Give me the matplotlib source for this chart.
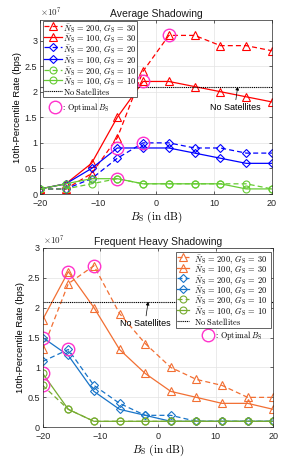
import matplotlib
matplotlib.use("Agg")
import matplotlib.pyplot as plt
from matplotlib.lines import Line2D
from matplotlib.patches import Rectangle
import numpy as np

plt.rcParams['mathtext.fontset'] = 'cm'
plt.rcParams['font.family'] = ['Liberation Sans', 'DejaVu Sans']

# ---------------- data ----------------
bs = np.linspace(-20, 20, 10)

# Average shadowing (units of 1e7 bps)
avg_200_30 = [0.1, 0.1, 0.4, 1.1, 2.4, 3.1, 3.1, 2.9, 2.9, 2.8]
avg_100_30 = [0.1, 0.2, 0.6, 1.5, 2.2, 2.2, 2.1, 2.0, 1.9, 1.8]
avg_200_20 = [0.1, 0.1, 0.3, 0.7, 1.0, 1.0, 0.9, 0.9, 0.8, 0.8]
avg_100_20 = [0.1, 0.2, 0.5, 0.9, 0.9, 0.9, 0.8, 0.7, 0.6, 0.6]
avg_200_10 = [0.1, 0.1, 0.2, 0.3, 0.2, 0.2, 0.2, 0.2, 0.2, 0.1]
avg_100_10 = [0.1, 0.2, 0.3, 0.3, 0.2, 0.2, 0.2, 0.2, 0.1, 0.1]
avg_nosat = 2.1
avg_opt_x = [2.22, -2.22, -2.22, -6.67, -6.67]
avg_opt_y = [3.1, 2.2, 1.0, 0.9, 0.3]

# Frequent heavy shadowing
fhs_200_30 = [1.3, 2.4, 2.7, 1.9, 1.4, 1.0, 0.8, 0.7, 0.5, 0.5]
fhs_100_30 = [1.8, 2.6, 2.0, 1.3, 0.9, 0.6, 0.5, 0.4, 0.4, 0.3]
fhs_200_20 = [1.1, 1.3, 0.7, 0.4, 0.2, 0.2, 0.1, 0.1, 0.1, 0.1]
fhs_100_20 = [1.5, 1.2, 0.6, 0.3, 0.2, 0.1, 0.1, 0.1, 0.1, 0.1]
fhs_200_10 = [0.7, 0.3, 0.1, 0.1, 0.1, 0.1, 0.1, 0.1, 0.1, 0.1]
fhs_100_10 = [0.9, 0.3, 0.1, 0.1, 0.1, 0.1, 0.1, 0.1, 0.1, 0.1]
fhs_nosat = 2.1
fhs_opt_x = [-11.11, -15.56, -20, -15.56, -20, -20]
fhs_opt_y = [2.7, 2.6, 1.5, 1.3, 0.9, 0.7]

labels = [r"$\bar{N}_{\mathrm{S}}\,=\,200,\;G_{\mathrm{S}}\,=\,30$",
          r"$\bar{N}_{\mathrm{S}}\,=\,100,\;G_{\mathrm{S}}\,=\,30$",
          r"$\bar{N}_{\mathrm{S}}\,=\,200,\;G_{\mathrm{S}}\,=\,20$",
          r"$\bar{N}_{\mathrm{S}}\,=\,100,\;G_{\mathrm{S}}\,=\,20$",
          r"$\bar{N}_{\mathrm{S}}\,=\,200,\;G_{\mathrm{S}}\,=\,10$",
          r"$\bar{N}_{\mathrm{S}}\,=\,100,\;G_{\mathrm{S}}\,=\,10$"]
nosat_label = r"$\mathrm{No\ Satellites}$"
markers = ['^', '^', 'D', 'D', 'o', 'o']
styles = ['--', '-', '--', '-', '--', '-']
msizes = [5.5, 5.5, 4.2, 4.2, 5, 5]

W, H = 291, 462
fig = plt.figure(figsize=(W / 100, H / 100), dpi=100)
ax1 = fig.add_axes([0.1375, 0.580, 0.797, 0.3766])
ax2 = fig.add_axes([0.1467, 0.0751, 0.7924, 0.3887])

MAG = '#FF33CC'
DASH = (4, 2.5)


def fx(px):
    return px / W


def fy(py):
    return 1 - py / H


def draw(ax, series, colors, nosat, optx, opty, ylim, title):
    for y, c, m, ls, ms in zip(series, colors, markers, styles, msizes):
        ax.plot(bs, y, ls=ls, color=c, marker=m, ms=ms, mfc='none',
                mec=c, mew=0.8, lw=0.9,
                dashes=DASH if ls == '--' else (None, None))
    ax.axhline(nosat, color='black', lw=0.8, dashes=(1, 0.7))
    ax.plot(optx, opty, 'o', ms=9, mfc='none', mec=MAG, mew=1.0, ls='none')
    ax.set_xlim(-20, 20)
    ax.set_ylim(*ylim)
    ax.set_xticks([-20, -10, 0, 10, 20])
    ax.set_yticks([0, 0.5, 1, 1.5, 2, 2.5, 3])
    ax.set_yticklabels(['0', '0.5', '1', '1.5', '2', '2.5', '3'])
    ax.tick_params(direction='in', labelsize=6.5, length=2.5, width=0.5,
                   top=True, right=True, colors='#262626')
    ax.tick_params(axis='x', pad=3.5)
    ax.tick_params(axis='y', pad=2)
    ax.grid(True, color='#e3e3e3', lw=0.5)
    ax.set_axisbelow(True)
    for s in ax.spines.values():
        s.set_linewidth(0.5)
        s.set_color('#262626')
    ax.set_title(title, fontsize=7.5, pad=2, color='#1a1a1a')
    ax.set_xlabel(r"$B_{\mathrm{S}}\ \mathrm{(in\ dB)}$", fontsize=8, labelpad=1)
    ax.set_ylabel("10th-Percentile Rate (bps)", fontsize=6.8, labelpad=2)
    ax.text(0.0, 1.005, r"$\times10^{7}$", transform=ax.transAxes,
            fontsize=6.5, ha='left', va='bottom', color='#262626',
            family=['DejaVu Sans'])


def legend_box(box, rows, hx0, hx1, tx, colors, fs=6.0):
    x0, y0, x1, y1 = box
    fig.add_artist(Rectangle((fx(x0), fy(y1)), fx(x1) - fx(x0), fy(y0) - fy(y1),
                             transform=fig.transFigure, facecolor='white',
                             edgecolor='#262626', lw=0.5, zorder=5))
    for i, ry in enumerate(rows):
        if i < 6:
            c = colors[i]
            ls = styles[i]
            ln = Line2D([fx(hx0), fx(hx1)], [fy(ry), fy(ry)], transform=fig.transFigure,
                        color=c, lw=0.9, zorder=6,
                        dashes=DASH if ls == '--' else (None, None))
            fig.add_artist(ln)
            mk = Line2D([fx((hx0 + hx1) / 2)], [fy(ry)], transform=fig.transFigure,
                        marker=markers[i], ms=msizes[i], mfc='none', mec=c,
                        mew=0.8, ls='none', zorder=7)
            fig.add_artist(mk)
            lab = labels[i]
        else:
            ln = Line2D([fx(hx0), fx(hx1)], [fy(ry), fy(ry)], transform=fig.transFigure,
                        color='black', lw=0.8, dashes=(1, 0.7), zorder=6)
            fig.add_artist(ln)
            lab = nosat_label
        fig.text(fx(tx), fy(ry), lab, fontsize=fs, ha='left', va='center_baseline',
                 zorder=7)


cols1 = ['#FF0000', '#FF0000', '#0000FF', '#0000FF', '#66CC33', '#66CC33']
cols2 = ['#F26F33', '#F26F33', '#1874C8', '#1874C8', '#77AC30', '#77AC30']

draw(ax1, [avg_200_30, avg_100_30, avg_200_20, avg_100_20, avg_200_10, avg_100_10],
     cols1, avg_nosat, avg_opt_x, avg_opt_y, (0, 3.4), "Average Shadowing")
draw(ax2, [fhs_200_30, fhs_100_30, fhs_200_20, fhs_100_20, fhs_200_10, fhs_100_10],
     cols2, fhs_nosat, fhs_opt_x, fhs_opt_y, (0, 3.0), "Frequent Heavy Shadowing")

legend_box((42.7, 20.7, 136.7, 96.7), [26.3, 36.5, 47.4, 58.6, 69.6, 80.2, 90.5],
           43.5, 61.5, 63.3, cols1)
legend_box((176.0, 251.7, 271.0, 327.7), [257.3, 267.7, 278.3, 288.5, 299.0, 309.8, 320.5],
           177.3, 189.0, 194.5, cols2)

# Optimal B_S keys
ax1.plot([-17.4], [1.70], 'o', ms=9, mfc='none', mec=MAG, mew=1.0)
ax1.text(-16.4, 1.70, r"$:\,\mathrm{Optimal}\ B_{\mathrm{S}}$", fontsize=5.8,
         va='center', ha='left')
ax2.plot([8.7], [1.54], 'o', ms=9, mfc='none', mec=MAG, mew=1.0)
ax2.text(9.7, 1.54, r"$:\,\mathrm{Optimal}\ B_{\mathrm{S}}$", fontsize=5.8,
         va='center', ha='left')

# No Satellites annotations
arr = dict(arrowstyle='-|>', color='black', lw=0.5, mutation_scale=5,
           shrinkA=0, shrinkB=0)
ax1.annotate("No Satellites", xy=(14.1, 2.1), xytext=(13.6, 1.70),
             fontsize=6.5, ha='center', va='center', arrowprops=arr)
ax2.annotate("No Satellites", xy=(-1.7, 2.1), xytext=(-2.25, 1.74),
             fontsize=6.5, ha='center', va='center', arrowprops=arr)

fig.savefig("out.png", dpi=100)
